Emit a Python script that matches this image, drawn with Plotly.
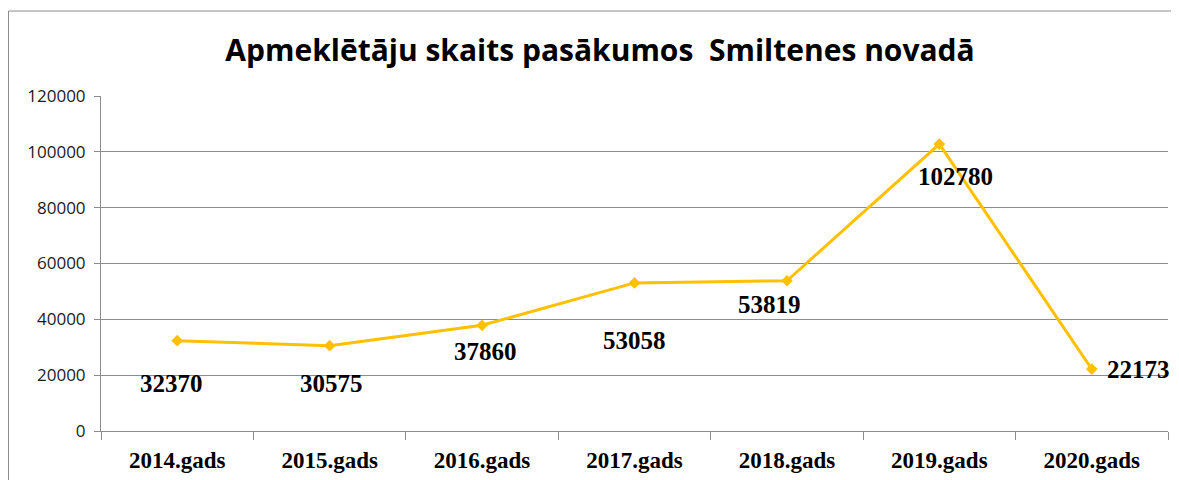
import plotly.graph_objects as go

years = ["2014.gads", "2015.gads", "2016.gads", "2017.gads", "2018.gads", "2019.gads", "2020.gads"]
visitors = [32370, 30575, 37860, 53058, 53819, 102780, 22173]
y_ticks = [0, 20000, 40000, 60000, 80000, 100000, 120000]
title_text = "Apmeklētāju skaits pasākumos  Smiltenes novadā"

# label offsets (pixels) per point, styling only
label_dy = [-43, -38, -26, -58, -24, -32, 0]
label_dx = [-6, 2, 3, 0, -17, 16, 47]

# page has an 8px body margin, so the figure is sized to the remaining area
W, H = 1171, 472
L, R, T, B = 93, 11, 88, 49
pw, ph = W - L - R, H - T - B

fig = go.Figure()
fig.add_trace(go.Scatter(
    x=years, y=visitors, mode="lines+markers",
    line=dict(color="#FFC000", width=3),
    marker=dict(symbol="diamond", size=9, color="#FFC000"),
    hoverinfo="x+y", showlegend=False, cliponaxis=False,
))

for i, (cat, val) in enumerate(zip(years, visitors)):
    fig.add_annotation(
        x=cat, y=val, text=f"<b>{val}</b>", showarrow=False,
        xshift=label_dx[i], yshift=label_dy[i],
        font=dict(family="Liberation Serif", size=25, color="#000000"),
    )

# outer chart border (extends past the right and bottom edges)
fig.add_shape(type="rect", xref="paper", yref="paper",
              x0=(0.5 - L) / pw, x1=(W + 20 - L) / pw,
              y0=-(B + 20) / ph, y1=(H - B - 3) / ph,
              line=dict(color="#8c8c8c", width=1), layer="below")

fig.update_layout(
    width=W, height=H,
    margin=dict(l=L, r=R, t=T, b=B, autoexpand=False),
    paper_bgcolor="white", plot_bgcolor="white",
    title=dict(text=f"<b>{title_text}</b>", x=592 / W, xanchor="center",
               y=1 - 42 / H, yanchor="middle", automargin=False,
               font=dict(family="Open Sans", size=30, color="#000000")),
    xaxis=dict(type="category", range=[-0.5, len(years) - 0.5],
               tickson="boundaries", ticks="outside", ticklen=8,
               tickcolor="#8c8c8c", showline=True, linecolor="#8c8c8c", linewidth=1,
               showgrid=False, automargin=False, ticklabelstandoff=8,
               tickfont=dict(family="Liberation Serif", size=23, color="#000000", weight="bold")),
    yaxis=dict(range=[0, 120000], tickvals=y_ticks, ticktext=[str(v) for v in y_ticks],
               ticks="outside", ticklen=6, tickcolor="#8c8c8c",
               showline=True, linecolor="#8c8c8c", linewidth=1, automargin=False,
               showgrid=True, gridcolor="#8c8c8c", gridwidth=1, zeroline=False,
               ticklabelstandoff=5,
               tickfont=dict(family="Open Sans", size=17, color="#1a1a1a")),
)

fig.write_html("out.html")
